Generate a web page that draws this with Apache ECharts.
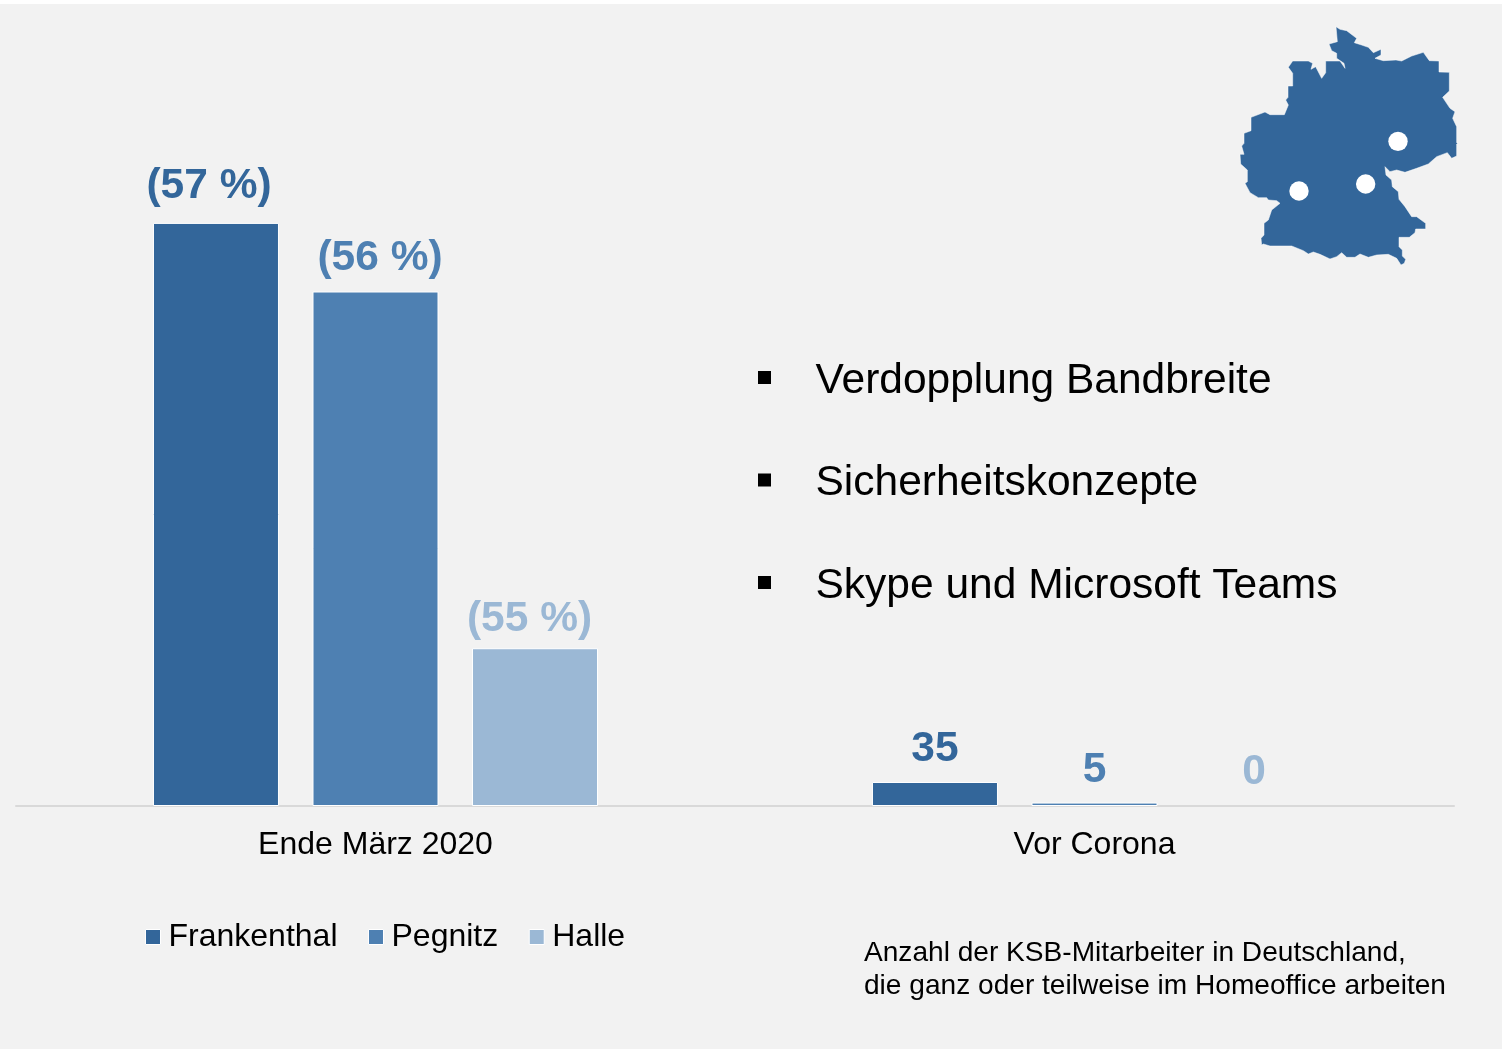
<!DOCTYPE html>
<html>
<head>
<meta charset="utf-8">
<title>Homeoffice</title>
<script src="https://cdn.jsdelivr.net/npm/echarts@6/dist/echarts.min.js"></script>
<style>
html,body{margin:0;padding:0;background:#fff;}
#main{width:1512px;height:1052px;}
</style>
</head>
<body>
<div id="main"></div>
<script>
// Werte
var categories = ["Ende März 2020", "Vor Corona"];
var seriesNames = ["Frankenthal", "Pegnitz", "Halle"];
var frankenthal = [850, 35];
var pegnitz = [750, 5];
var halle = [230, 0];
var shareLabels = ["(57 %)", "(56 %)", "(55 %)"];
var notes = ["Verdopplung Bandbreite", "Sicherheitskonzepte", "Skype und Microsoft Teams"];
var caption = "Anzahl der KSB-Mitarbeiter in Deutschland,\ndie ganz oder teilweise im Homeoffice arbeiten";

var colors = ["#33669A", "#4E80B2", "#9BB8D5"];
var font = '"Liberation Sans", Arial, sans-serif';
// Versatz der Prozent-Labels gegenueber dem Balken (wie im Original verschoben)
var labelOffsets = [[-7, -1], [4.5, 2], [-5.5, 7]];
var smallLabelOffsets = [[0, 3], [0, 3], [0, 2]];

// Deutschland-Umriss, Pixel im Ausschnitt (1220,10) x3
var mapOutline = [[348,50],[360,58],[380,62],[410,85],[403,98],[425,105],[445,112],[460,128],[483,118],[483,135],[465,145],[490,152],[528,150],[545,153],[575,138],[610,127],[628,152],[657,153],[657,186],[688,187],[688,243],[668,262],[690,295],[705,305],[698,325],[710,350],[710,398],[714,400],[710,402],[710,438],[695,445],[682,428],[650,440],[625,462],[590,475],[555,487],[530,480],[510,485],[495,470],[498,495],[515,510],[517,530],[535,545],[537,568],[555,590],[575,620],[590,620],[617,640],[617,657],[587,657],[585,668],[568,682],[537,682],[537,710],[547,720],[547,738],[557,748],[553,760],[543,765],[530,745],[505,733],[470,735],[445,742],[420,732],[405,742],[380,742],[365,728],[350,740],[330,747],[300,733],[280,726],[265,732],[250,722],[215,708],[150,708],[130,702],[125,705],[123,685],[132,675],[132,640],[145,630],[155,600],[180,580],[170,572],[145,570],[140,563],[115,563],[90,548],[75,520],[82,515],[82,480],[62,462],[60,433],[72,433],[65,408],[72,400],[72,370],[93,362],[93,322],[135,306],[150,314],[193,314],[205,285],[197,270],[204,262],[204,228],[218,228],[218,190],[205,172],[218,153],[265,153],[278,160],[273,178],[287,170],[305,205],[317,188],[317,153],[360,153],[375,175],[372,160],[350,145],[350,130],[335,122],[327,102],[352,95]];
var mapDots = [[534,394],[437,522],[237,543]];

function toPage(p) {
    return [1220 + p[0] / 3, 10 + p[1] / 3];
}

function makeSeries(i, values) {
    return {
        name: seriesNames[i],
        type: "bar",
        barWidth: 126,
        barGap: "26.6%",
        data: [{
            value: values[0],
            label: { formatter: shareLabels[i], offset: labelOffsets[i] }
        }, {
            value: values[1],
            label: { offset: smallLabelOffsets[i] },
            // ein Balken mit 0 zeichnet sonst seinen Rand ueber die Achse
            itemStyle: values[1] === 0 ? { borderWidth: 0 } : {}
        }],
        itemStyle: { color: colors[i], borderColor: "#fff", borderWidth: 1 },
        label: {
            show: true,
            position: "top",
            distance: 14,
            color: colors[i],
            fontFamily: font,
            fontWeight: "bold",
            fontSize: 42.5
        }
    };
}

var graphics = [{
    type: "rect", z: -1, silent: true,
    shape: { x: 0, y: 4, width: 1502, height: 1045 },
    style: { fill: "#F2F2F2" }
}, {
    type: "polygon",
    shape: { points: mapOutline.map(toPage) },
    style: { fill: colors[0], stroke: "#fff", lineWidth: 0.5 }
}];
mapDots.forEach(function (d) {
    var p = toPage(d);
    graphics.push({
        type: "circle",
        z: 10,
        shape: { cx: p[0], cy: p[1], r: 9.7 },
        style: { fill: "#fff" }
    });
});
notes.forEach(function (txt, i) {
    var y = 381 + i * 102.5;
    graphics.push({
        type: "rect",
        shape: { x: 758, y: y - 10, width: 13, height: 13 },
        style: { fill: "#000" }
    });
    graphics.push({
        type: "text",
        x: 815.5,
        y: y,
        style: { text: txt, fill: "#000", font: "42.5px " + font, verticalAlign: "middle" }
    });
});
graphics.push({
    type: "text",
    x: 864,
    y: 937,
    style: { text: caption, fill: "#000", font: "28.1px " + font, lineHeight: 33 }
});

var chart = echarts.init(document.getElementById("main"));
chart.setOption({
    animation: false,
    backgroundColor: "#fff",
    grid: { left: 16, right: 58, top: 120, height: 686 },
    legend: {
        data: seriesNames,
        left: 140,
        top: 916,
        itemWidth: 15,
        itemHeight: 15,
        itemGap: 30.5,
        icon: "rect",
        itemStyle: { borderColor: "#fff", borderWidth: 1 },
        textStyle: { fontFamily: font, fontSize: 32, color: "#000", padding: [0, 0, 0, 3] }
    },
    xAxis: {
        type: "category",
        data: categories,
        axisLine: { lineStyle: { color: "#D9D9D9", width: 2 } },
        axisTick: { show: false },
        axisLabel: { fontFamily: font, fontSize: 32, color: "#000", margin: 23 }
    },
    yAxis: {
        type: "value",
        min: 0,
        max: 1000,
        show: false
    },
    series: [makeSeries(0, frankenthal), makeSeries(1, pegnitz), makeSeries(2, halle)],
    graphic: graphics
});
</script>
</body>
</html>
